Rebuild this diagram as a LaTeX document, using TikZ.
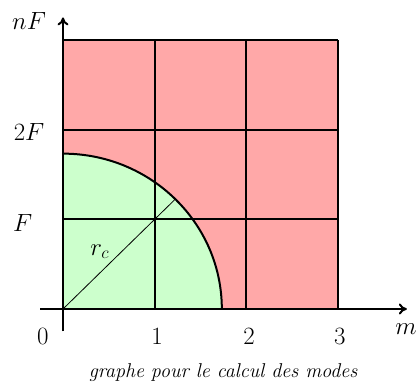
\documentclass[tikz,border=0pt]{standalone}
\usepackage{tikz}
\usetikzlibrary{arrows.meta}
\definecolor{modeout}{RGB}{255,168,168}
\definecolor{modein}{RGB}{204,255,204}
\tikzset{
  gridline/.style={draw=black,line width=2pt},
  axisline/.style={-{Computer Modern Rightarrow[length=8pt,width=11pt]},
                   draw=black,line width=2pt},
  rayline/.style={draw=black,line width=0.8pt},
  lbl/.style={inner sep=0pt,font=\fontsize{23}{25}\selectfont},
  caption/.style={inner sep=0pt,font=\fontsize{20}{22}\selectfont\itshape},
}
\begin{document}
\begin{tikzpicture}[x=91.7pt,y=89.7pt]
  \useasboundingbox (-63pt,-76pt) rectangle (357pt,309pt);
  % the cells
  \fill[modeout] (0,0) rectangle (3,3);
  \fill[modein] (0,0) -- (1.732,0)
    arc[start angle=0,end angle=90,x radius=1.732,y radius=1.732] -- cycle;
  \foreach \k in {1,2,3} {
    \draw[gridline] (\k,0) -- (\k,3);
    \draw[gridline] (0,\k) -- (3,\k);
  }
  \draw[gridline] (1.732,0)
    arc[start angle=0,end angle=90,x radius=1.732,y radius=1.732];
  % the radius
  \coordinate (o) at (0,0);
  \coordinate (rc) at (45:1.732);
  \draw[rayline] (o) -- (rc);
  \node[lbl] (rlab) at (0.40,0.64) {$r_c$};
  % the axes
  \coordinate (xs) at (-0.25,0);
  \coordinate (xe) at (3.75,0);
  \coordinate (ys) at (0,-0.25);
  \coordinate (ye) at (0,3.25);
  \draw[axisline] (xs) -- (xe);
  \draw[axisline] (ys) -- (ye);
  \node[lbl] (nlab) at (-0.37,3.21) {$nF$};
  \node[lbl] (tlab) at (-0.37,1.97) {$2F$};
  \node[lbl] (flab) at (-0.44,0.96) {$F$};
  \node[lbl] (zlab) at (-0.22,-0.31) {$0$};
  \node[lbl] (one) at (1.025,-0.31) {$1$};
  \node[lbl] (two) at (2.03,-0.31) {$2$};
  \node[lbl] (three) at (3.02,-0.31) {$3$};
  \node[lbl] (mlab) at (3.74,-0.23) {$m$};
  \node[caption] (cap) at (1.745,-0.71) {graphe pour le calcul des modes};
\end{tikzpicture}
\end{document}
